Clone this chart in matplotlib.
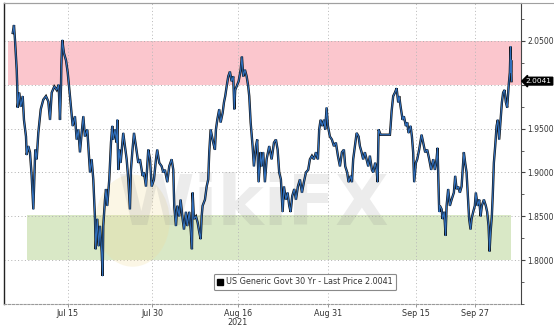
import matplotlib
matplotlib.use("Agg")
import matplotlib.pyplot as plt
from matplotlib.patches import Rectangle, Ellipse
from matplotlib.lines import Line2D
import numpy as np

# --- data: trading-session position (days) and 30Y yield ---
session = [1.12, 1.28, 1.41, 1.63, 1.70, 1.75, 1.96, 2.14, 2.40, 2.56, 2.82, 2.91, 3.12, 3.33, 3.55,
           3.76, 3.88, 4.01, 4.19, 4.40, 4.71, 5.04, 5.38, 5.68, 5.90, 6.12, 6.45, 6.76, 7.01, 7.18,
           7.31, 7.35, 7.47, 7.69, 7.95, 8.17, 8.46, 8.81, 9.10, 9.32, 9.53, 9.74, 9.96, 10.17, 10.38,
           10.68, 10.86, 11.03, 11.24, 11.45, 11.67, 11.76, 11.96, 12.14, 12.31, 12.53, 12.65, 12.73,
           12.95, 13.08, 13.24, 13.50, 13.72, 13.88, 14.01, 14.23, 14.45, 14.53, 14.65, 14.78, 14.96,
           15.29, 15.51, 15.73, 15.94, 16.15, 16.28, 16.45, 16.67, 16.92, 17.22, 17.44, 17.78, 17.95,
           18.21, 18.50, 18.72, 18.94, 19.23, 19.49, 19.65, 19.91, 20.22, 20.42, 20.64, 20.94, 21.19,
           21.50, 21.71, 21.83, 22.05, 22.22, 22.47, 22.65, 22.91, 23.08, 23.33, 23.50, 23.76, 23.97,
           24.10, 24.19, 24.36, 24.62, 24.83, 25.04, 25.22, 25.35, 25.47, 25.77, 25.99, 26.19, 26.32,
           26.50, 26.67, 26.83, 27.05, 27.18, 27.35, 27.60, 27.78, 28.04, 28.21, 28.37, 28.55, 28.76,
           28.97, 29.19, 29.40, 29.53, 29.65, 29.83, 30.09, 30.35, 30.51, 30.68, 30.90, 31.12, 31.32,
           31.45, 31.63, 31.88, 32.05, 32.31, 32.47, 32.65, 32.91, 33.04, 33.24, 33.46, 33.68, 34.01,
           34.32, 34.62, 34.87, 35.09, 35.29, 35.51, 35.73, 35.90, 36.15, 36.37, 36.58, 36.76, 36.96,
           37.22, 37.44, 37.69, 37.95, 38.21, 38.46, 38.72, 39.01, 39.23, 39.49, 39.74, 40.00, 40.26,
           40.42, 40.60, 40.81, 41.03, 41.19, 41.37, 41.54, 41.79, 42.05, 42.31, 42.56, 42.82, 43.08,
           43.33, 43.59, 43.76, 44.01, 44.19, 44.45, 44.62, 44.78, 45.00, 45.22, 45.47, 45.64, 45.86,
           46.06, 46.28, 46.50, 46.71, 46.92, 47.18, 47.35, 47.60, 47.78, 47.91, 48.04, 48.29, 49.49,
           49.58, 49.71, 49.91, 50.13, 50.35, 50.55, 50.68, 50.86, 51.12, 51.28, 51.54, 51.71, 51.88,
           52.14, 52.31, 52.47, 52.60, 52.82, 52.99, 53.24, 53.55, 53.76, 54.01, 54.27, 54.53, 54.78,
           55.04, 55.26, 55.47, 55.60, 55.68, 55.81, 55.90, 56.12, 56.24, 56.45, 56.63, 56.76, 56.96,
           57.18, 57.40, 57.69, 57.86, 58.04, 58.24, 58.46, 58.68, 58.88, 58.97, 59.14, 59.32, 59.53,
           59.65, 59.83, 59.96, 60.17, 60.38, 60.51, 60.73, 60.94, 61.12, 61.28, 61.54, 61.79, 61.96,
           62.14, 62.27, 62.40, 62.56, 62.69, 62.82, 62.99, 63.17, 63.33, 63.50, 63.68, 63.85, 64.01,
           64.19, 64.36, 64.53, 64.71, 64.87, 64.96, 65.00, 65.04, 65.09]

yield_30y = [2.059, 2.068, 2.051, 2.017, 1.998, 1.974, 1.991, 1.975, 1.987, 1.960, 1.941, 1.920, 1.930,
             1.923, 1.896, 1.858, 1.892, 1.926, 1.915, 1.945, 1.972, 1.983, 1.987, 1.981, 1.960, 1.991,
             1.998, 1.994, 2.000, 1.960, 1.998, 2.021, 2.051, 2.036, 2.028, 2.014, 1.987, 1.953, 1.964,
             1.9375, 1.949, 1.923, 1.945, 1.964, 1.941, 1.949, 1.923, 1.900, 1.915, 1.892, 1.847, 1.8125,
             1.847, 1.816, 1.839, 1.809, 1.782, 1.839, 1.869, 1.881, 1.862, 1.892, 1.934, 1.953, 1.9375,
             1.949, 1.934, 1.960, 1.903, 1.926, 1.911, 1.945, 1.930, 1.915, 1.892, 1.858, 1.903, 1.923,
             1.945, 1.930, 1.911, 1.915, 1.896, 1.900, 1.884, 1.926, 1.915, 1.884, 1.892, 1.915, 1.926,
             1.911, 1.907, 1.900, 1.903, 1.889, 1.907, 1.915, 1.903, 1.862, 1.839, 1.862, 1.850, 1.869,
             1.847, 1.835, 1.855, 1.839, 1.855, 1.832, 1.8125, 1.877, 1.847, 1.850, 1.843, 1.832, 1.824,
             1.850, 1.862, 1.869, 1.884, 1.892, 1.923, 1.949, 1.941, 1.934, 1.926, 1.949, 1.960, 1.972,
             1.957, 1.968, 1.980, 1.987, 1.998, 2.0095, 2.015, 2.004, 2.0095, 1.972, 1.994, 1.998, 2.004,
             2.017, 2.032, 2.0095, 2.017, 2.0095, 1.998, 1.987, 1.957, 1.930, 1.907, 1.930, 1.9375, 1.889,
             1.923, 1.907, 1.923, 1.889, 1.915, 1.930, 1.915, 1.934, 1.9375, 1.926, 1.900, 1.892, 1.855,
             1.884, 1.869, 1.877, 1.862, 1.855, 1.873, 1.881, 1.869, 1.884, 1.892, 1.877, 1.889, 1.900,
             1.903, 1.915, 1.919, 1.915, 1.923, 1.915, 1.949, 1.960, 1.953, 1.960, 1.949, 1.974, 1.953,
             1.941, 1.9375, 1.930, 1.934, 1.919, 1.907, 1.923, 1.926, 1.907, 1.900, 1.889, 1.896, 1.889,
             1.915, 1.930, 1.945, 1.941, 1.930, 1.923, 1.915, 1.923, 1.915, 1.907, 1.919, 1.903, 1.900,
             1.911, 1.903, 1.889, 1.949, 1.943, 1.943, 1.953, 1.970, 1.987, 1.991, 1.996, 1.980, 1.987,
             1.975, 1.960, 1.964, 1.953, 1.957, 1.945, 1.953, 1.941, 1.923, 1.889, 1.911, 1.915, 1.926,
             1.943, 1.934, 1.923, 1.926, 1.915, 1.903, 1.915, 1.903, 1.915, 1.928, 1.900, 1.855, 1.862,
             1.858, 1.847, 1.855, 1.828, 1.862, 1.881, 1.862, 1.869, 1.877, 1.896, 1.881, 1.884, 1.877,
             1.884, 1.911, 1.923, 1.911, 1.900, 1.866, 1.847, 1.835, 1.847, 1.855, 1.862, 1.877, 1.862,
             1.869, 1.850, 1.862, 1.869, 1.862, 1.855, 1.839, 1.810, 1.832, 1.850, 1.877, 1.911, 1.930,
             1.953, 1.960, 1.9375, 1.960, 1.980, 1.991, 1.994, 1.980, 1.974, 1.998, 2.014, 2.0435, 2.014,
             2.028, 2.0041]

tick_labels = ["Jul 15", "Jul 30", "Aug 16", "Aug 31", "Sep 15", "Sep 27"]
tick_session = [8.2, 19.0, 30.0, 41.5, 52.8, 60.4]
ytick_values = [1.80, 1.85, 1.90, 1.95, 2.00, 2.05]
resistance_band = (2.00, 2.05)
support_band = (1.80, 1.852)
last_price = 2.0041
legend_text = "US Generic Govt 30 Yr - Last Price 2.0041"

fig = plt.figure(figsize=(5.54, 3.28), dpi=100)
ax = fig.add_axes([4/554, 24/328, 517/554, 301/328])
ax.set_xlim(0, 66.3)
ax.set_ylim(1.7511, 2.0932)

# bands
ax.add_patch(Rectangle((0.51, resistance_band[0]), 66.3 - 0.51, resistance_band[1] - resistance_band[0],
                       facecolor="#fbc6cd", edgecolor="none", zorder=0))
ax.add_patch(Rectangle((2.95, support_band[0]), 65.0 - 2.95, support_band[1] - support_band[0],
                       facecolor="#d9e8c6", edgecolor="none", zorder=0))

# grid
for yv in ytick_values:
    ax.axhline(yv, color="#b0b0b0", lw=0.7, ls=(0, (1, 2.5)), zorder=1)
for xv in tick_session:
    ax.axvline(xv, color="#b8b8b8", lw=0.7, ls=(0, (1, 2.5)), zorder=1)

# watermark (faint logo + text)
ax.add_patch(Ellipse((16.5, 1.845), 9.5, 0.105, facecolor="#f2dc9a", alpha=0.25,
                     edgecolor="none", zorder=1.4))
ax.text(32, 1.862, "WikiFX", fontsize=50, fontweight="bold", color="#8a8a8a", alpha=0.16,
        ha="center", va="center", zorder=1.5)

# series
ax.plot(session, yield_30y, color="#111111", lw=1.7, zorder=3, solid_joinstyle="miter")
ax.plot(session, yield_30y, color="#2f6fbd", lw=0.8, zorder=4)

# axes styling
ax.spines["top"].set_color("#a0a0a0")
ax.spines["top"].set_linewidth(0.8)
ax.spines["left"].set_color("#222222")
ax.spines["left"].set_linewidth(1.0)
ax.spines["right"].set_color("#444444")
ax.spines["right"].set_linewidth(0.8)
ax.spines["bottom"].set_color("#9a9a9a")
ax.spines["bottom"].set_linewidth(0.8)
ax.spines["bottom"].set_linestyle((0, (2, 1.5)))

ax.yaxis.tick_right()
ax.set_yticks(ytick_values)
ax.set_yticklabels(["%.4f" % v if abs(v - 2.00) > 1e-9 else "" for v in ytick_values])
ax.set_yticks(np.arange(1.75, 2.09, 0.025), minor=True)
ax.tick_params(axis="y", which="major", length=3, width=0.8, colors="#444444", labelsize=5.5,
               labelcolor="#333333", pad=1.5, direction="out")
ax.tick_params(axis="y", which="minor", length=2, width=0.6, colors="#444444")

ax.set_xticks(tick_session)
ax.set_xticklabels(tick_labels)
ax.tick_params(axis="x", which="major", length=2, width=0.6, colors="#888888", labelsize=5.8,
               labelcolor="#333333", pad=1.5)
ax.text(30.0, -0.045, "2021", transform=ax.get_xaxis_transform(), ha="center", va="top",
        fontsize=5.8, color="#333333")

# last price box
ax.annotate("2.0041", xy=(1.0, last_price), xycoords=("axes fraction", "data"),
            xytext=(3.5, 0), textcoords="offset points", ha="left", va="center",
            fontsize=5.3, color="white",
            bbox=dict(boxstyle="larrow,pad=0.12", facecolor="black", edgecolor="black"),
            annotation_clip=False, zorder=6)

# legend
handles = [Line2D([], [], marker="s", color="none", markerfacecolor="black",
                  markeredgecolor="black", markersize=5)]
leg = ax.legend(handles, [legend_text], loc="center",
                bbox_to_anchor=((305 - 4) / 517, (304 - 282) / 301),
                fontsize=5.8, frameon=True, fancybox=True, handlelength=0.8,
                handletextpad=0.3, borderpad=0.45, labelcolor="#333333")
leg.get_frame().set_edgecolor("#8a8a8a")
leg.get_frame().set_linewidth(0.8)
leg.get_frame().set_alpha(1.0)

# top border line across figure
fig.add_artist(Line2D([4/554, 1.0], [325/328, 325/328], color="#a0a0a0", lw=0.8))

fig.savefig("out.png", dpi=100)
